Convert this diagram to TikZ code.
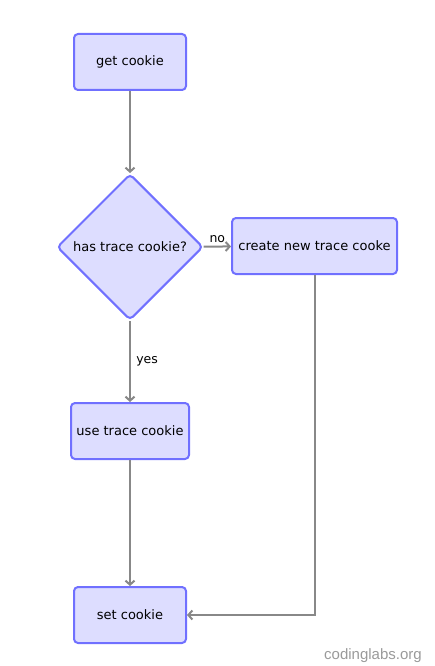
\documentclass[tikz,border=0pt]{standalone}
\usepackage{fontspec}
\setmainfont{DejaVu Sans}
\newfontfamily\markfont{Liberation Sans}
\usetikzlibrary{shapes.geometric, arrows.meta}
\definecolor{boxfill}{RGB}{221,221,255}
\definecolor{boxline}{RGB}{112,112,255}
\definecolor{flowgray}{RGB}{136,136,136}

\begin{document}
\begin{tikzpicture}[x=1pt, y=-1pt,
    stepbox/.style={draw=boxline, fill=boxfill, line width=2pt, rounded corners=4pt,
        minimum height=56pt, inner xsep=3pt, font=\fontsize{13}{15}\selectfont},
    decide/.style={diamond, draw=boxline, fill=boxfill, line width=2pt, rounded corners=4pt,
        minimum size=146pt, inner sep=0pt, font=\fontsize{13}{15}\selectfont},
    flow/.style={draw=flowgray, line width=2pt, -{Straight Barb[length=4pt, width=9pt]}},
    edgelabel/.style={font=\fontsize{12.5}{14}\selectfont}]
    \useasboundingbox (0,0) rectangle (434,666);

    % boxes
    \node[stepbox, minimum width=112pt] (get) at (130,62) {get cookie};
    \node[decide] (has) at (130,247) {has trace cookie?};
    \node[stepbox, minimum width=165pt] (create) at (314.5,246) {create new trace cooke};
    \node[stepbox, minimum width=118pt] (use) at (130,431) {use trace cookie};
    \node[stepbox, minimum width=112pt] (set) at (130,615) {set cookie};

    % arrows
    \draw[flow] (get) -- (has);
    \draw[flow] (has) -- node[edgelabel, above, yshift=0pt] {no} (create);
    \draw[flow] (has) -- node[edgelabel, right, xshift=2pt] {yes} (use);
    \draw[flow] (use) -- (set);
    \draw[flow] (create.south) |- (set.east);

    % watermark
    \node[text=flowgray!85, font=\markfont\fontsize{15}{17}\selectfont] (mark) at (373,656) {codinglabs.org};
\end{tikzpicture}
\end{document}
